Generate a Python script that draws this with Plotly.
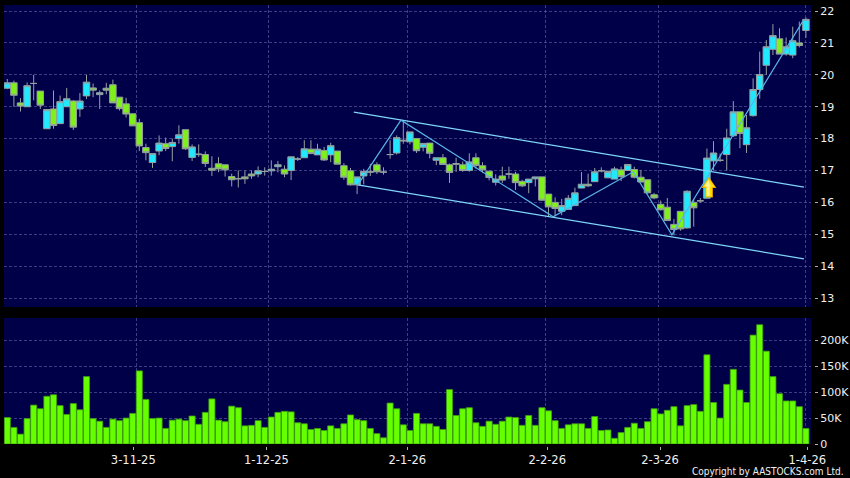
import plotly.graph_objects as go

# index, open, high, low, close
opens = [19.58,19.75,19.12,19.0,19.73,19.49,18.31,18.93,18.47,19.0,19.18,18.93,19.34,19.59,19.38,19.58,19.69,19.3,19.09,18.78,
         18.5,17.72,17.25,17.61,17.84,17.75,18.0,18.28,17.41,17.52,17.5,17.07,17.21,17.18,16.81,16.75,16.8,16.89,16.89,16.97,
         16.99,17.12,17.04,17.0,17.36,17.4,17.67,17.49,17.63,17.49,17.61,17.15,16.99,16.55,16.83,16.96,17.18,16.95,17.5,17.55,
         17.95,17.9,18.0,17.73,17.86,17.32,17.4,17.18,17.22,17.18,17.0,17.4,17.15,16.98,16.63,16.83,16.89,16.89,16.66,16.62,
         16.74,16.8,16.26,16.0,15.72,15.78,15.9,16.45,16.57,16.65,16.99,16.77,16.73,17.02,17.0,17.03,16.79,16.71,16.24,15.94,
         15.85,15.31,15.72,15.2,16.0,16.05,16.13,17.3,17.32,17.5,18.09,18.84,17.81,18.72,19.54,20.3,20.8,21.13,20.65,20.62,21.0,21.39]
highs = [19.87,19.82,19.27,19.76,20.0,19.49,18.91,19.51,19.35,19.59,19.2,19.43,20.0,19.73,19.51,19.75,19.85,19.3,19.28,18.78,
         18.62,17.84,17.53,18.1,18.03,18.0,18.42,18.28,17.82,17.82,17.6,17.45,17.42,17.18,16.9,17.0,17.0,17.0,17.13,17.1,
         17.32,17.3,17.16,17.43,17.42,17.95,17.95,17.84,17.74,17.87,17.61,17.23,17.08,16.8,17.05,17.21,17.26,17.1,17.95,18.1,
         18.53,18.21,18.0,17.85,17.86,17.4,17.52,17.22,17.4,17.28,17.54,17.54,17.26,16.98,16.88,17.12,17.12,16.96,16.71,16.73,
         16.8,16.8,16.26,16.16,16.11,16.23,16.46,16.95,16.9,17.08,17.1,17.0,17.12,17.12,17.19,17.12,17.02,16.71,16.3,16.06,
         16.14,15.48,15.72,16.38,16.11,16.14,17.69,17.92,17.53,18.31,19.18,18.84,18.74,19.89,20.73,21.09,21.59,21.46,21.17,21.51,21.67,21.8]
lows = [19.55,19.0,18.85,19.0,19.2,18.93,18.31,18.31,18.47,19.0,18.27,18.68,19.24,19.3,18.93,19.39,19.12,18.88,18.66,18.4,
        17.61,17.32,17.08,17.48,17.61,17.29,17.84,17.65,17.3,17.43,17.11,16.83,16.95,16.81,16.5,16.47,16.58,16.74,16.79,16.84,
        16.84,16.94,16.79,16.7,17.3,17.4,17.53,17.49,17.3,17.26,17.2,16.71,16.53,16.26,16.56,16.83,16.89,16.87,17.37,17.5,
        17.84,17.82,17.55,17.6,17.38,17.17,17.19,16.61,16.96,16.96,16.96,17.06,16.93,16.69,16.53,16.61,16.74,16.39,16.48,16.29,
        16.5,16.05,15.56,15.56,15.6,15.78,15.9,16.45,16.48,16.65,16.94,16.77,16.73,16.67,17.0,16.75,16.62,16.28,16.1,15.74,
        15.43,14.97,15.11,15.18,15.24,15.99,16.13,17.0,17.27,17.0,18.05,17.7,17.55,18.69,19.25,20.0,20.62,20.65,20.6,20.52,20.86,21.16]
closes = [19.75,19.36,19.02,19.66,19.73,19.05,18.91,18.41,19.16,19.25,18.36,19.18,19.77,19.52,19.44,19.52,19.12,18.94,18.77,18.4,
          17.77,17.56,17.53,17.86,17.69,17.88,18.12,17.68,17.74,17.5,17.22,17.01,17.05,17.02,16.71,16.74,16.74,16.83,16.99,16.97,
          17.04,17.18,16.89,17.43,17.36,17.68,17.53,17.67,17.33,17.78,17.2,16.79,16.55,16.8,16.97,16.95,16.96,16.95,17.5,18.03,
          17.93,18.21,17.62,17.85,17.54,17.4,17.19,16.94,17.2,17.0,17.27,17.16,17.02,16.78,16.73,16.7,16.89,16.62,16.52,16.73,
          16.8,16.07,15.86,15.81,15.9,16.13,16.3,16.57,16.52,16.96,16.99,16.97,17.05,16.81,17.19,16.79,16.64,16.3,16.14,15.77,
          15.43,15.15,15.17,16.35,15.83,16.05,17.39,17.55,17.32,18.02,18.84,18.16,18.34,19.54,20.01,20.88,21.23,20.65,20.88,21.07,20.92,21.74]
volumes_k = [51,32,19,49,75,68,92,95,74,57,78,66,130,49,44,32,48,45,50,59,
             141,86,49,50,30,46,48,45,54,38,61,87,46,43,73,70,35,36,45,32,
             52,61,63,62,41,39,28,30,26,35,30,39,56,47,45,30,20,12,79,68,
             37,26,59,39,39,34,28,105,55,68,70,41,34,44,38,44,52,51,36,55,
             36,70,64,45,30,37,39,39,30,53,26,27,11,22,32,40,30,43,68,58,
             65,72,35,74,76,63,172,80,50,115,144,104,80,210,230,179,130,97,83,83,72,30]

x_tick_labels = ["3-11-25","1-12-25","2-1-26","2-2-26","2-3-26","1-4-26"]
x_tick_pos = [19.09,39.27,60.6,81.8,98.9,121.2]
x_grid_pos = [19.55,39.55,60.6,81.55,98.6,120.95]
price_ticks = [13,14,15,16,17,18,19,20,21,22]
volume_ticks = [0,50000,100000,150000,200000]
volume_labels = ["0","50K","100K","150K","200K"]

upper_channel_x = [52.5,120.7]
upper_channel_y = [18.83,16.48]
lower_channel_x = [53.1,120.7]
lower_channel_y = [16.55,14.23]
zigzag_x = [53.1,59.65,82.7,94.85,100.7,120.7]
zigzag_y = [16.55,18.58,15.55,16.96,14.98,21.74]
arrow_tip = (106.3,16.8)

BG = "#000048"
GRID = "rgba(120,120,190,0.5)"
WICK = "#95a0a0"
CYAN = "#1fe8ff"
GREEN = "#7ff01a"
TXT = "#f0f0f0"
FONT = "DejaVu Sans"

idx = list(range(len(opens)))
def subset(kind):
    out = []
    for i in idx:
        d = closes[i]-opens[i]
        k = "flat" if abs(d) < 0.025 else ("up" if d > 0 else "down")
        if k == kind:
            out.append(i)
    return out

fig = go.Figure()
for kind, fill in (("flat", "#a0a8a8"), ("up", CYAN), ("down", GREEN)):
    s = subset(kind)
    style = dict(line=dict(color=WICK, width=1), fillcolor=fill)
    fig.add_trace(go.Candlestick(
        x=s, open=[opens[i] for i in s], high=[highs[i] for i in s],
        low=[lows[i] for i in s], close=[closes[i] for i in s],
        increasing=style, decreasing=style, whiskerwidth=0,
        showlegend=False, xaxis="x", yaxis="y", hoverinfo="skip"))

for xs, ys, col in ((upper_channel_x, upper_channel_y, "#7fd6f8"),
                    (lower_channel_x, lower_channel_y, "#7fd6f8"),
                    (zigzag_x, zigzag_y, "#58b4e6")):
    fig.add_trace(go.Scatter(x=xs, y=ys, mode="lines", line=dict(color=col, width=1.2),
                             showlegend=False, xaxis="x", yaxis="y", hoverinfo="skip"))

fig.add_trace(go.Bar(x=idx, y=[v*1000 for v in volumes_k],
                     marker=dict(color="#66ff00", line=dict(color="#3f9e12", width=0.8)),
                     showlegend=False, xaxis="x2", yaxis="y2", hoverinfo="skip"))

def arrow_shape(path, color):
    return dict(type="path", xref="x", yref="y", xsizemode="pixel", ysizemode="pixel",
                xanchor=arrow_tip[0], yanchor=arrow_tip[1], path=path,
                fillcolor=color, line=dict(width=0), layer="above")

arrow_shapes = [
    arrow_shape("M0,0 L7.5,-11 L4,-11 L4,-20.5 L-4,-20.5 L-4,-11 L-7.5,-11 Z", "#e8a800"),
    arrow_shape("M0,-1.5 L6,-10 L3,-10 L3,-19.5 L-3,-19.5 L-3,-10 L-6,-10 Z", "#ffdc00"),
    arrow_shape("M-0.5,-3 L-4.5,-9.5 L-2.2,-9.5 L-2.2,-19 L0.8,-19 L0.8,-9.5 L2,-9.5 Z", "#fff39a"),
]

PW = 842.0
PH = 471.0
grid_style = dict(showgrid=True, gridcolor=GRID, griddash="3px,2px", gridwidth=1)
x_dom = [0, 807/PW]
fig.update_layout(
    width=850, height=478, autosize=False,
    paper_bgcolor="#000000", plot_bgcolor="#000000",
    margin=dict(l=4, r=4, t=5, b=2, autoexpand=False),
    boxmode="overlay", boxgap=0.02, boxgroupgap=0, bargap=0.08,
    showlegend=False,
    font=dict(family=FONT, size=12, color=TXT),
    xaxis=dict(domain=x_dom, range=[-0.5,121.77], anchor="y", tickmode="array", tickvals=x_grid_pos,
               showticklabels=False, ticks="", rangeslider=dict(visible=False), zeroline=False, **grid_style),
    xaxis2=dict(domain=x_dom, range=[-0.5,121.77], anchor="free", position=30/PH, tickmode="array",
                tickvals=x_tick_pos, ticktext=x_tick_labels, ticks="outside", ticklen=3, tickcolor="#b0b0b0",
                showgrid=False, zeroline=False, showline=False,
                tickfont=dict(family=FONT, size=11.5, color=TXT),
                minor=dict(tickmode="array", tickvals=x_grid_pos, ticks="", showgrid=True,
                           gridcolor=GRID, griddash="3px,2px", gridwidth=1)),
    yaxis=dict(domain=[169/PH,1], range=[12.72,22.19], side="right", anchor="free", position=810/PW,
               tickmode="array", tickvals=price_ticks, ticks="outside", ticklen=3, tickcolor="#b0b0b0",
               zeroline=False, tickfont=dict(family=FONT, size=11, color=TXT), **grid_style),
    yaxis2=dict(domain=[32/PH,158/PH], range=[0,243000], side="right", anchor="free", position=810/PW,
                tickmode="array", tickvals=volume_ticks, ticktext=volume_labels, ticks="outside", ticklen=3,
                tickcolor="#b0b0b0", zeroline=False, tickfont=dict(family=FONT, size=11, color=TXT), **grid_style),
    shapes=arrow_shapes + [
        dict(type="rect", xref="x domain", yref="y domain", x0=0, x1=1, y0=0, y1=1, fillcolor=BG, line=dict(width=0), layer="below"),
        dict(type="rect", xref="x2 domain", yref="y2 domain", x0=0, x1=1, y0=0, y1=1, fillcolor=BG, line=dict(width=0), layer="below"),
    ],
    annotations=[dict(text="Copyright by AASTOCKS.com Ltd.", xref="paper", yref="paper",
                      x=1, y=5/PH, xanchor="right", yanchor="middle", showarrow=False,
                      font=dict(family="DejaVu Sans Condensed, DejaVu Sans", size=10, color=TXT))],
)
fig.write_html("out.html", config=dict(displayModeBar=False),
               post_script="document.body.style.margin='0';document.body.style.background='#000';")
